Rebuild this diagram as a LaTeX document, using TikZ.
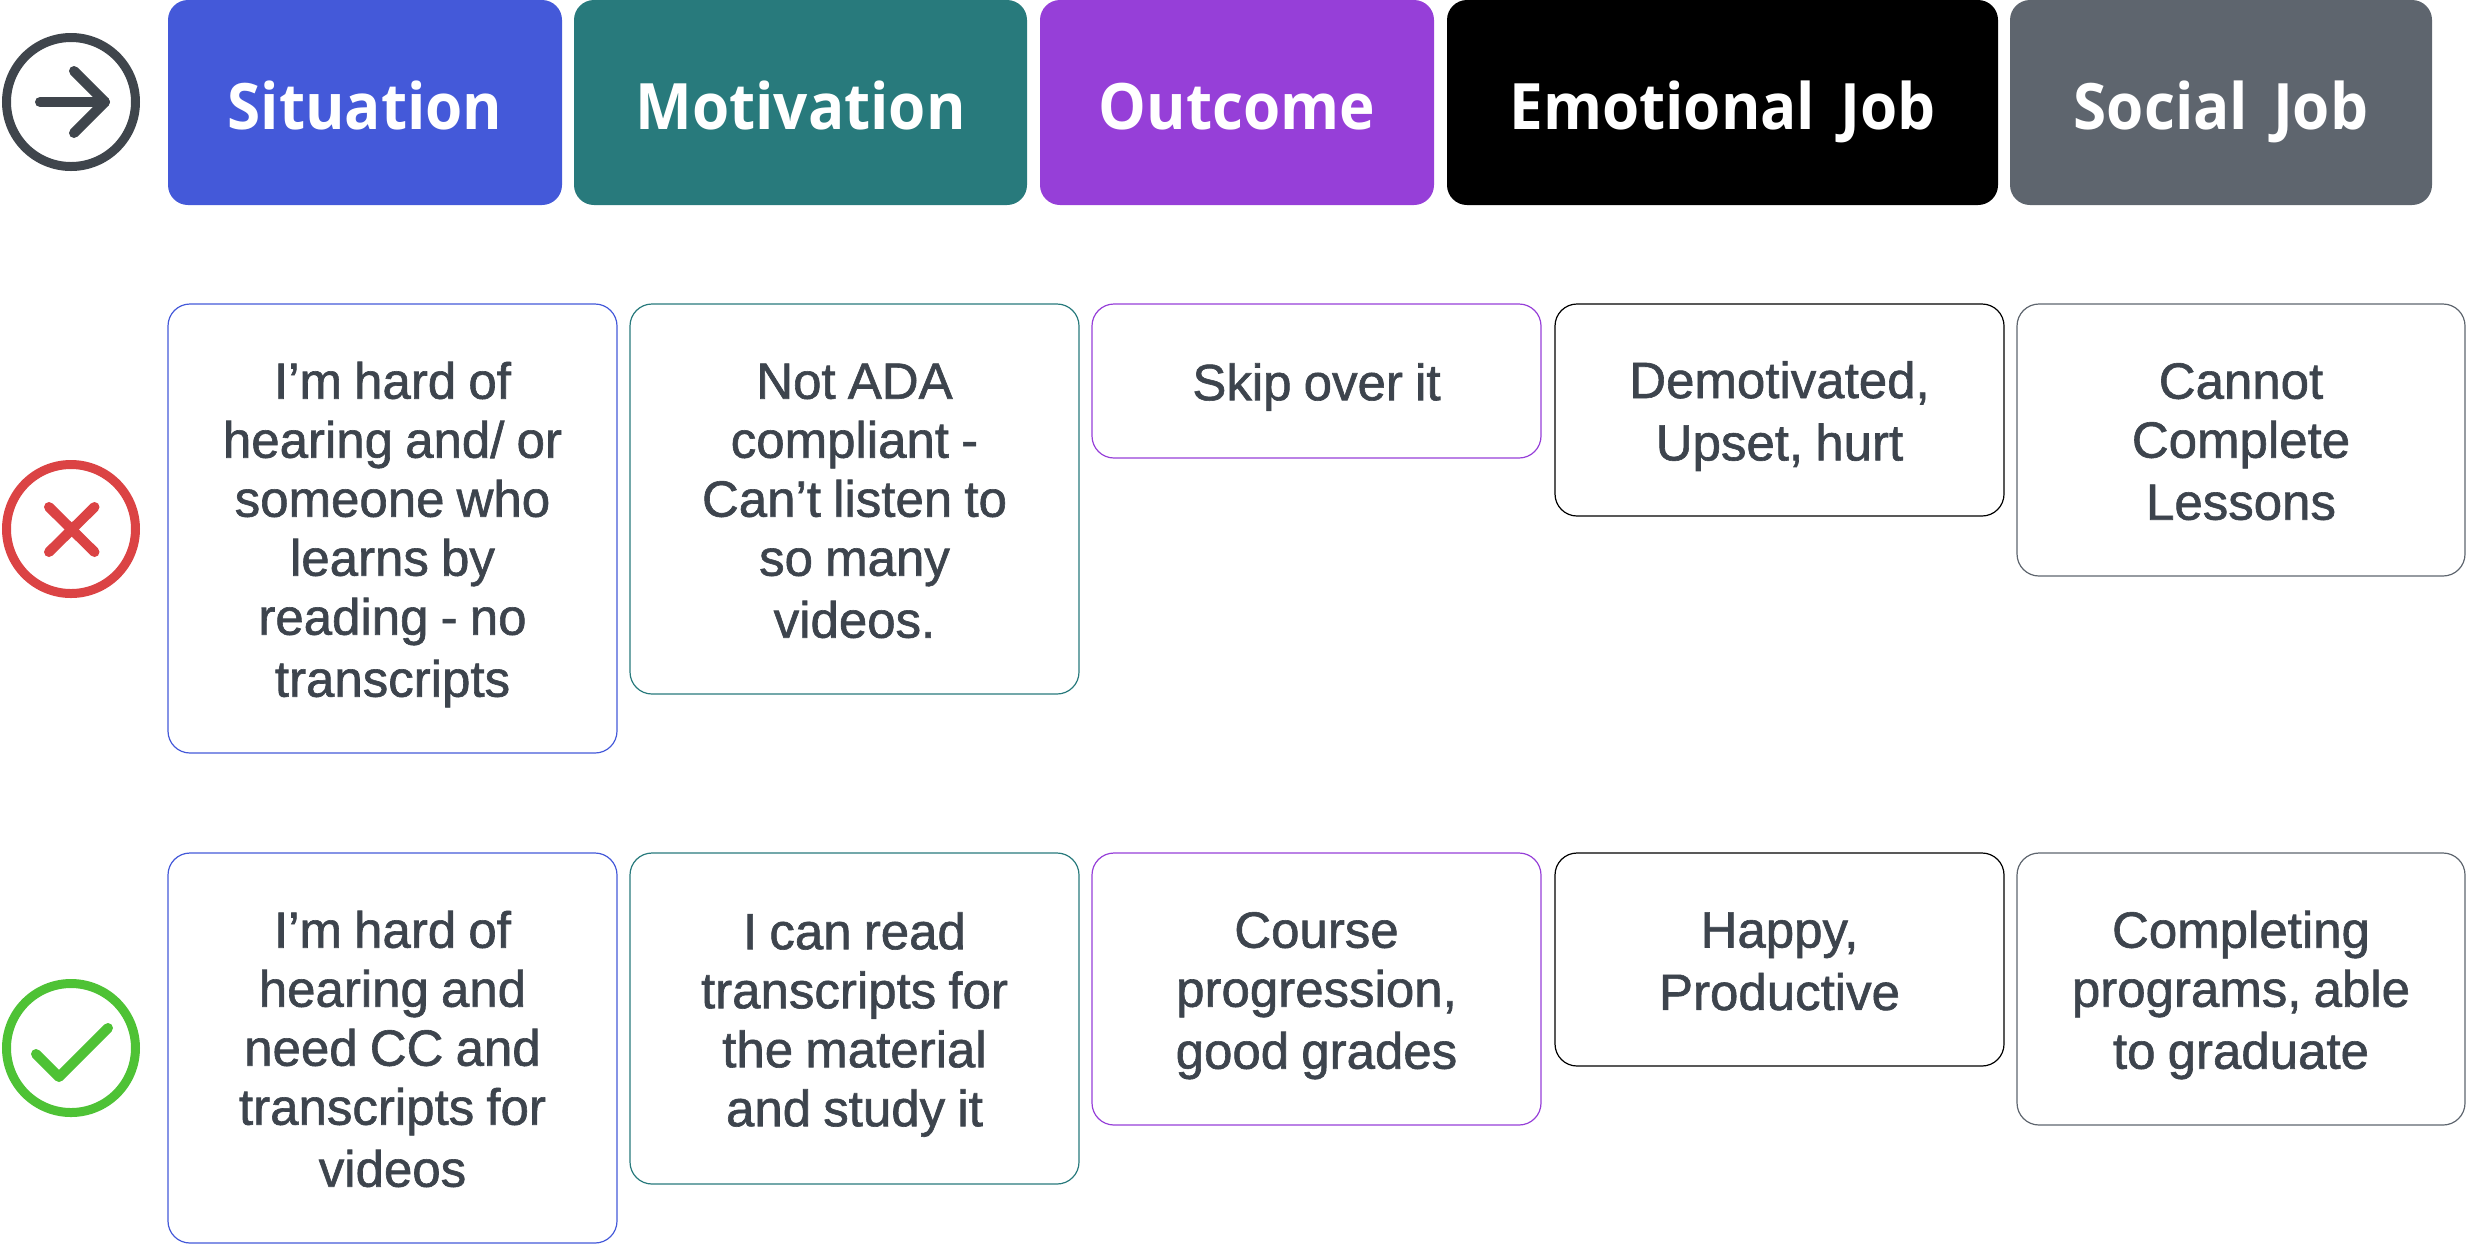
\documentclass[tikz,border=0pt]{standalone}
\usepackage{fontspec}
\setmainfont{Liberation Sans}
\newfontfamily\cellfont{Liberation Sans}[WordSpace=0.86,FakeBold=1.2]
\newfontfamily\headfont{Open Sans}[BoldFont={Open Sans Bold},BoldFeatures={FakeStretch=0.94},WordSpace=1.6]
\definecolor{cblue}{HTML}{4459D9}
\definecolor{cteal}{HTML}{287A7C}
\definecolor{cpurple}{HTML}{963FD8}
\definecolor{cgrey}{HTML}{5E656E}
\definecolor{ctext}{HTML}{3D444D}
\definecolor{cred}{HTML}{DB4344}
\definecolor{cgreen}{HTML}{4EC235}
\definecolor{cdark}{HTML}{3F454C}
\newcommand{\cellstrut}{\rule[-5.5pt]{0pt}{30.2pt}}
\newcommand{\headstrut}{\rule[-8pt]{0pt}{42.5pt}}
\tikzset{
 x=0.5pt,y=-0.5pt,
 headbox/.style={rounded corners=10pt,inner sep=0pt,text=white,font=\headfont\bfseries\fontsize{32}{38}\selectfont,execute at begin node=\headstrut},
 cellbox/.style={draw=#1,line width=0.6pt,rounded corners=11pt,inner sep=0pt,align=flush center,text=ctext,text width=215pt,font=\cellfont\fontsize{25.5}{29.5}\selectfont,execute at begin node=\cellstrut,execute at end node=\cellstrut},
 ring/.style={draw=#1,line width=4.5pt,circle,minimum size=64.5pt,inner sep=0pt},
 glyph/.style={draw=#1,line width=5pt,line cap=round,line join=round},
}
\begin{document}
\begin{tikzpicture}
\useasboundingbox (0,0) rectangle (2466,1244);
% header boxes
\node[headbox,fill=cblue,minimum width=197pt,minimum height=102.5pt] (h1) at (365,102.5) {Situation};
\node[headbox,fill=cteal,minimum width=226.5pt,minimum height=102.5pt] (h2) at (800.5,102.5) {Motivation};
\node[headbox,fill=cpurple,minimum width=197pt,minimum height=102.5pt] (h3) at (1237,102.5) {Outcome};
\node[headbox,fill=black,minimum width=275.5pt,minimum height=102.5pt] (h4) at (1722.5,102.5) {Emotional Job};
\node[headbox,fill=cgrey,minimum width=211pt,minimum height=102.5pt] (h5) at (2221,102.5) {Social Job};
% icons
\node[ring=cdark] (i1) at (71,102) {};
\node[ring=cred] (i2) at (71,529) {};
\node[ring=cgreen] (i3) at (71,1048) {};
\draw[glyph=cdark] (40,102) -- (105,102);
\draw[glyph=cdark] (74,71) -- (105,102) -- (74,133);
\draw[glyph=cred] (49,507) -- (94.5,552);
\draw[glyph=cred] (94.5,507) -- (49,552);
\draw[glyph=cgreen] (36,1054) -- (59,1077) -- (108,1028);
% row 1
\node[cellbox=cblue,minimum width=224.5pt,minimum height=224.5pt] (a1) at (392.5,528.5) {I’m hard of\\hearing and/ or\\someone who\\learns by\\reading - no\\transcripts};
\node[cellbox=cteal,minimum width=224.5pt,minimum height=195pt] (a2) at (854.5,499) {Not ADA\\compliant -\\Can’t listen to\\so many\\videos.};
\node[cellbox=cpurple,minimum width=224.5pt,minimum height=77pt] (a3) at (1316.5,381) {Skip over it};
\node[cellbox=black,minimum width=224.5pt,minimum height=106pt] (a4) at (1779.5,410) {Demotivated,\\Upset, hurt};
\node[cellbox=cgrey,minimum width=224pt,minimum height=136pt] (a5) at (2241,440) {Cannot\\Complete\\Lessons};
% row 2
\node[cellbox=cblue,minimum width=224.5pt,minimum height=195pt] (b1) at (392.5,1048) {I’m hard of\\hearing and\\need CC and\\transcripts for\\videos};
\node[cellbox=cteal,minimum width=224.5pt,minimum height=165.5pt] (b2) at (854.5,1018.5) {I can read\\transcripts for\\the material\\and study it};
\node[cellbox=cpurple,minimum width=224.5pt,minimum height=136pt] (b3) at (1316.5,989) {Course\\progression,\\good grades};
\node[cellbox=black,minimum width=224.5pt,minimum height=106.5pt] (b4) at (1779.5,959.5) {Happy,\\Productive};
\node[cellbox=cgrey,minimum width=224pt,minimum height=136pt] (b5) at (2241,989) {Completing\\programs, able\\to graduate};
\end{tikzpicture}
\end{document}
